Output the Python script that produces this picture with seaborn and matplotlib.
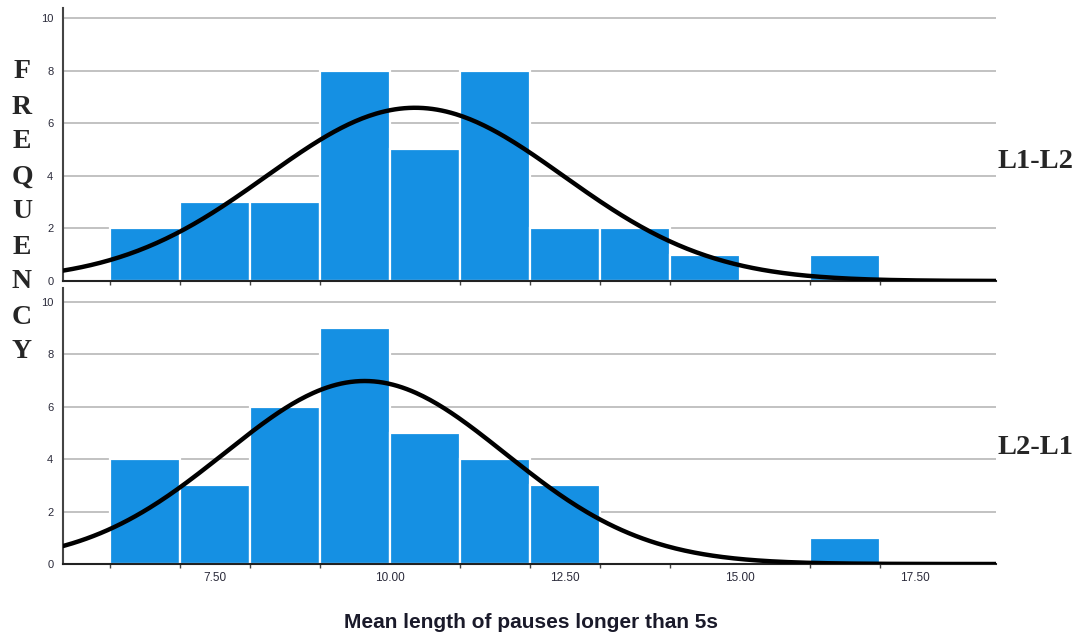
import numpy as np
import pandas as pd
import matplotlib
matplotlib.use("Agg")
import matplotlib.pyplot as plt
import seaborn as sns

# Histogram bins (width 1.0) and counts for each direction
bin_edges = [6, 7, 8, 9, 10, 11, 12, 13, 14, 15, 16, 17]
counts_l1_l2 = [2, 3, 3, 8, 5, 8, 2, 2, 1, 0, 1]
counts_l2_l1 = [4, 3, 6, 9, 5, 4, 3, 0, 0, 0, 1]

# Fitted normal curve parameters (mean, sd)
fit_l1_l2 = (10.36, 2.12)
fit_l2_l1 = (9.64, 2.00)

panel_labels = ["L1-L2", "L2-L1"]
x_tick_values = [7.5, 10.0, 12.5, 15.0, 17.5]
x_tick_labels = ["7.50", "10.00", "12.50", "15.00", "17.50"]
y_tick_values = [0, 2, 4, 6, 8, 10]
x_label = "Mean length of pauses longer than 5s"
y_letters = list("FREQUENCY")

sns.set_theme(style="white")
plt.rcParams["font.family"] = ["Liberation Sans", "DejaVu Sans"]

W, H = 1083, 637
fig = plt.figure(figsize=(W / 100, H / 100), dpi=100)

x_min, x_max = 5.33, 18.66
bar_color = "#1590E3"
serif = ["Liberation Serif", "DejaVu Serif"]


def px_axes(left, right, top, bottom):
    return fig.add_axes([left / W, 1 - bottom / H, (right - left) / W, (bottom - top) / H])


ax_top = px_axes(63, 996, 8, 281)
ax_bot = px_axes(63, 996, 288, 564)

panels = [
    (ax_top, counts_l1_l2, fit_l1_l2, 10.38, False),
    (ax_bot, counts_l2_l1, fit_l2_l1, 10.53, True),
]

centers = [(a + b) / 2 for a, b in zip(bin_edges[:-1], bin_edges[1:])]
width = bin_edges[1] - bin_edges[0]

for ax, counts, (mu, sd), ytop, show_x in panels:
    df = pd.DataFrame({"value": centers, "count": counts})
    sns.histplot(data=df, x="value", weights="count", bins=bin_edges, ax=ax,
                 color=bar_color, alpha=1.0, edgecolor="white", linewidth=1.6,
                 zorder=2)

    n = sum(counts)
    xs = np.linspace(x_min, x_max, 400)
    ys = n * width / (sd * np.sqrt(2 * np.pi)) * np.exp(-0.5 * ((xs - mu) / sd) ** 2)
    sns.lineplot(x=xs, y=ys, ax=ax, color="black", linewidth=3.2, zorder=4)

    ax.set_xlim(x_min, x_max)
    ax.set_ylim(0, ytop)
    ax.set_yticks(y_tick_values)
    ax.set_yticklabels([str(v) for v in y_tick_values], fontsize=8, color="#2a2a3a")
    ax.yaxis.grid(True, color="#B8B8B8", linewidth=1.2, zorder=0)
    ax.set_axisbelow(True)
    ax.xaxis.grid(False)
    ax.tick_params(axis="y", length=0, pad=7)

    ax.set_xticks(x_tick_values)
    ax.set_xticks(bin_edges, minor=True)
    ax.tick_params(axis="x", which="major", length=0, pad=6)
    ax.tick_params(axis="x", which="minor", length=3, width=1, color="#444444",
                   direction="out", bottom=True)
    if show_x:
        ax.set_xticklabels(x_tick_labels, fontsize=8.5, color="#2a2a3a")
    else:
        ax.set_xticklabels([])

    for side in ("top", "right"):
        ax.spines[side].set_visible(False)
    ax.spines["left"].set_color("#444444")
    ax.spines["left"].set_linewidth(1.5)
    ax.spines["bottom"].set_color("#222222")
    ax.spines["bottom"].set_linewidth(1.5)
    ax.set_xlabel("")
    ax.set_ylabel("")

# Panel labels on the right
for label, ypix in zip(panel_labels, [162, 448]):
    fig.text(1036 / W, 1 - ypix / H, label, ha="center", va="center",
             fontsize=20.5, fontweight="bold", family=serif)

# Stacked vertical axis title
y0, y1 = 72, 352
for i, ch in enumerate(y_letters):
    yy = y0 + (y1 - y0) * i / (len(y_letters) - 1)
    fig.text(22 / W, 1 - yy / H, ch, ha="center", va="center",
             fontsize=20, fontweight="bold", family=serif)

fig.text(531 / W, 1 - 622 / H, x_label, ha="center", va="center",
         fontsize=15, fontweight="bold", color="#1a1a2a")

fig.savefig("out.png", dpi=100)
